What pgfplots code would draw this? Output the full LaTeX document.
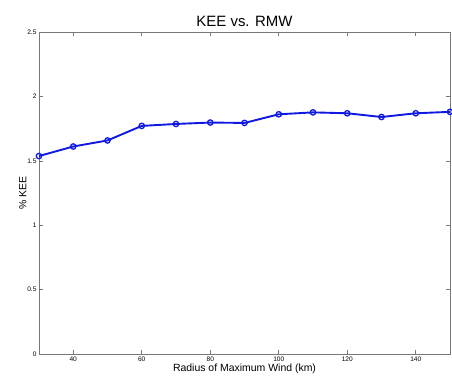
\documentclass[border=0pt]{standalone}
\usepackage{fontspec}
\setmainfont{Liberation Sans}
\usepackage{pgfplots}
\pgfplotsset{compat=1.18}
\definecolor{lineblue}{RGB}{15,25,225}
\definecolor{axgray}{RGB}{120,120,120}
\begin{document}
\begin{tikzpicture}
\path[use as bounding box] (-39bp,-33bp) rectangle (413bp,354bp);
\begin{axis}[
  at={(0,0)}, anchor=south west,
  scale only axis, width=411bp, height=322bp,
  xmin=30, xmax=150, ymin=0, ymax=2.5,
  xtick={40,60,...,140}, ytick={0,0.5,...,2.5},
  yticklabels={0,0.5,1,1.5,2,2.5},
  tick align=inside, major tick length=4bp,
  tick style={axgray, line width=0.6pt},
  axis line style={axgray, line width=1pt},
  ticklabel style={font=\fontsize{6.6}{7}\selectfont},
  /pgf/number format/assume math mode=true,
  xticklabel style={yshift=1bp},
  yticklabel style={xshift=1bp},
  title={KEE vs. RMW},
  title style={font=\fontsize{15}{17}\selectfont, yshift=-4bp},
  xlabel={Radius of Maximum Wind (km)},
  xlabel style={font=\fontsize{10.5}{12}\selectfont, yshift=4bp},
  ylabel={\% KEE},
  ylabel style={font=\fontsize{10.5}{12}\selectfont, yshift=-6bp},
]
\addplot[color=lineblue, line width=1.9pt, mark=o, mark size=2.7pt, mark options={line width=1.3pt}]
coordinates {
(30,1.537) (40,1.611) (50,1.658) (60,1.771) (70,1.786) (80,1.797) (90,1.794)
(100,1.861) (110,1.876) (120,1.869) (130,1.840) (140,1.869) (150,1.880)
};
\end{axis}
\end{tikzpicture}
\end{document}
